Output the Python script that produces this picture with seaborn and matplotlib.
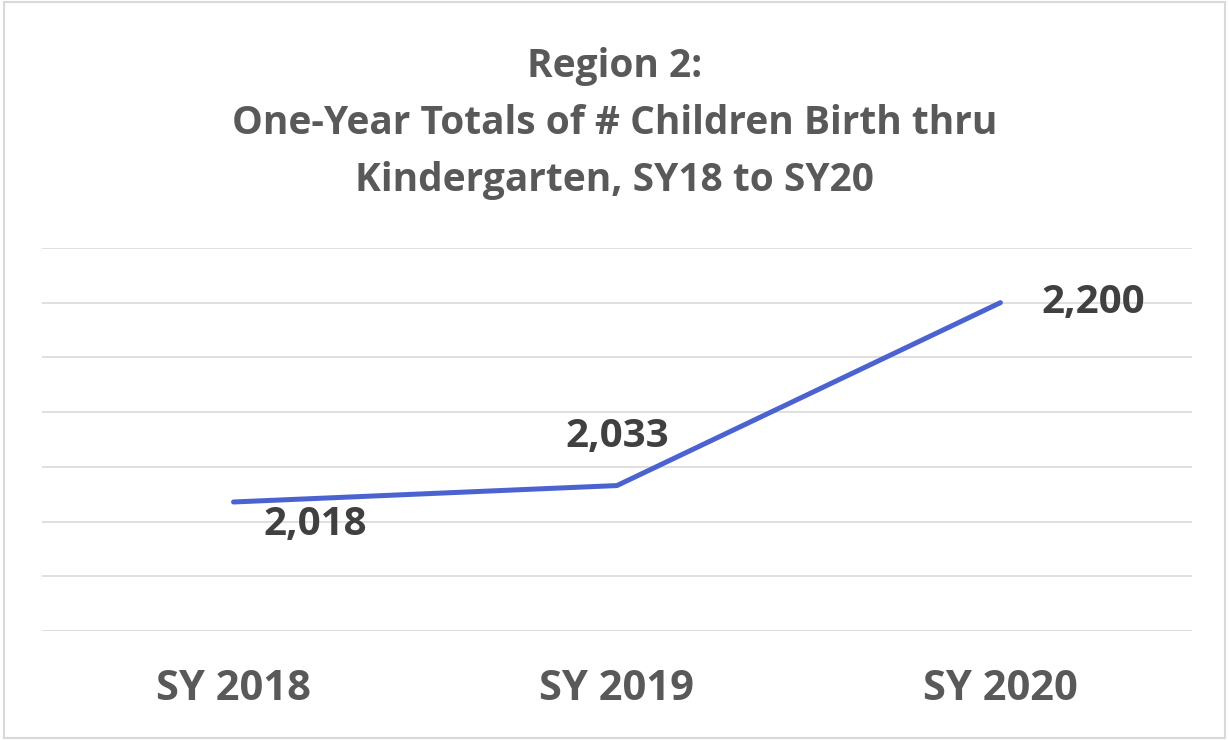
import numpy as np
import pandas as pd
import matplotlib.pyplot as plt
import seaborn as sns

# chart data
years = ['SY 2018', 'SY 2019', 'SY 2020']
totals = [2018, 2033, 2200]
# label offsets (points) relative to each data point
label_dx = [59, 0, 67]
label_dy = [-16, 35, 0]

df = pd.DataFrame({'Year': years, 'Total': totals})

sns.set_theme(style='white')
plt.rcParams['font.family'] = ['Open Sans', 'DejaVu Sans']

fig = plt.figure(figsize=(12.29, 7.40), dpi=100)
ax = fig.add_axes([0.034, 0.147, 0.936, 0.518])

sns.lineplot(data=df, x='Year', y='Total', ax=ax, color='#4A63D0',
             linewidth=3.6, sort=False)

ax.set_xlim(-0.5, 2.5)
ax.set_ylim(1900, 2250)
ax.set_yticks(np.arange(1900, 2251, 50))
ax.set_yticklabels([])
ax.tick_params(axis='y', length=0)
ax.tick_params(axis='x', length=0, pad=27, labelsize=30, labelcolor='#595959')
for lbl in ax.get_xticklabels():
    lbl.set_fontweight('bold')
ax.grid(axis='y', color='#D9D9D9', linewidth=1.2)
ax.grid(axis='x', visible=False)
for s in ax.spines.values():
    s.set_visible(False)
ax.set_xlabel('')
ax.set_ylabel('')

for i, (yr, v) in enumerate(zip(years, totals)):
    ax.annotate(f'{v:,}', (i, v), xytext=(label_dx[i], label_dy[i]),
                textcoords='offset points', ha='center', va='center',
                fontsize=29, fontweight='bold', color='#404040')

fig.text(0.5, 0.833,
         'Region 2:\nOne-Year Totals of # Children Birth thru\nKindergarten, SY18 to SY20',
         ha='center', va='center', fontsize=28, fontweight='bold',
         color='#595959', linespacing=1.6)

# light frame around the chart area
fig.patches.append(plt.Rectangle((0.003, 0.003), 0.994, 0.994, transform=fig.transFigure,
                                 fill=False, edgecolor='#D9D9D9', linewidth=1.5))

plt.savefig('out.png', dpi=100)
